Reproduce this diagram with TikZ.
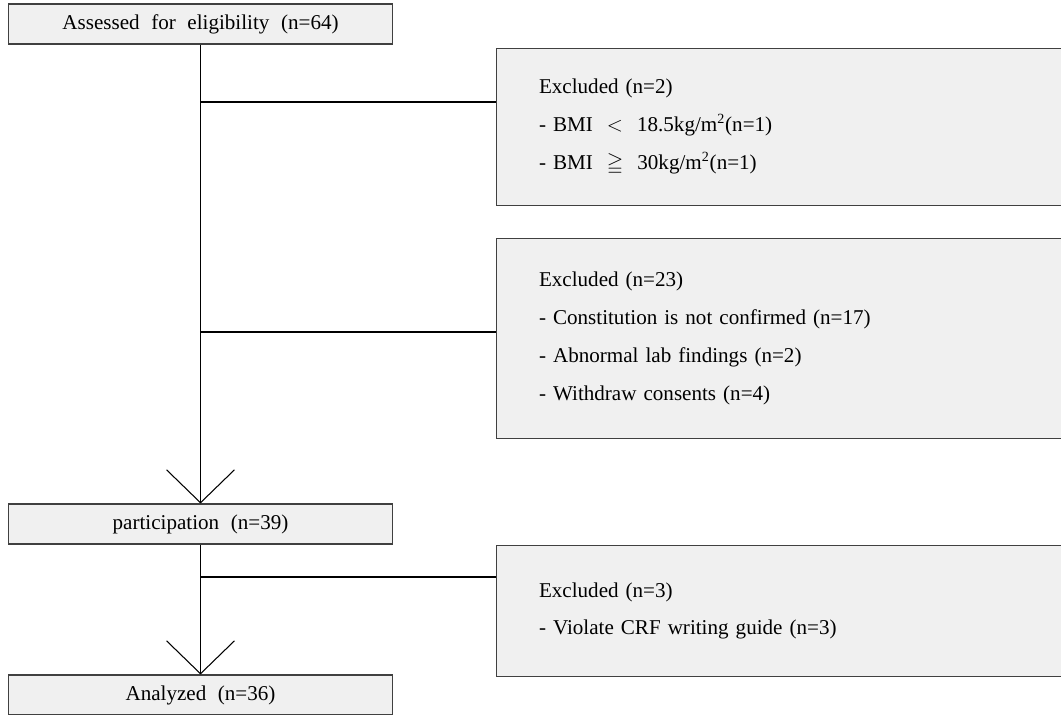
\documentclass[tikz,border=0pt]{standalone}
\usepackage{fontspec}
\setmainfont{Liberation Serif}[WordSpace=2.2]
\usepackage{amssymb}
\usetikzlibrary{arrows.meta}

\begin{document}
\begin{tikzpicture}[x=0.02cm, y=-0.02cm, line width=0.6pt,
	font=\fontsize{12}{21.5}\selectfont,
	flowbox/.style={shape=rectangle, draw=black!75, fill=black!6, minimum width=7.7cm, minimum height=0.8cm, inner sep=0pt},
	exbox/.style={shape=rectangle, draw=black!75, fill=black!6, anchor=north west, minimum width=11.7cm, text width=10cm, align=left, inner xsep=0.82cm},
	vee/.style={-{Straight Barb[length=0.66cm, width=1.36cm]}}]

	\useasboundingbox (0,0) rectangle (1061,714);

	\draw (200.5,24) node[flowbox](assess){Assessed for eligibility (n=64)};
	\draw (200.5,524) node[flowbox](part){participation (n=39)};
	\draw (200.5,695) node[flowbox](anal){Analyzed (n=36)};

	\draw (496,48) node[exbox, minimum height=3.14cm](excl1){Excluded (n=2)\\- BMI ~$<$~ 18.5kg/m\textsuperscript{2}(n=1)\\- BMI ~$\geqq$~ 30kg/m\textsuperscript{2}(n=1)};
	\draw (496,238) node[exbox, minimum height=4cm](excl2){Excluded (n=23)\\- Constitution is not confirmed (n=17)\\- Abnormal lab findings (n=2)\\- Withdraw consents (n=4)};
	\draw (496,545) node[exbox, minimum height=2.62cm](excl3){Excluded (n=3)\\- Violate CRF writing guide (n=3)};

	\coordinate (br1) at (200.5,102);
	\coordinate (br2) at (200.5,332);
	\coordinate (br3) at (200.5,577);

	\draw [vee](assess) -- (part);
	\draw [vee](part) -- (anal);
	\draw (br1) -- (br1 -| excl1.west);
	\draw (br2) -- (br2 -| excl2.west);
	\draw (br3) -- (br3 -| excl3.west);
\end{tikzpicture}
\end{document}
